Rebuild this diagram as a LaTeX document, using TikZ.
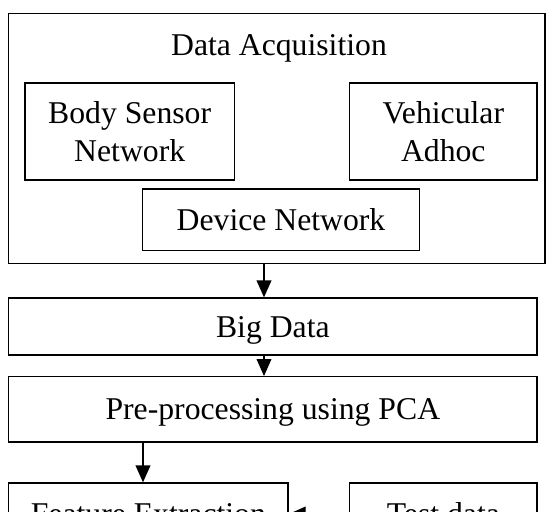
\documentclass[tikz,border=0pt]{standalone}
\usepackage{fontspec}
\setmainfont{Liberation Serif}
\usetikzlibrary{arrows.meta}

\tikzset{
  txt/.style={font=\fontsize{15.85pt}{19pt}\selectfont},
  blk/.style={txt, draw, line width=.65pt, inner sep=0pt, align=center},
  row/.style={blk, text height=10.5pt, text depth=0pt},
  flow/.style={-{Triangle[length=8.5pt,width=7.4pt]}, line width=.65pt}
}

\begin{document}
\begin{tikzpicture}[x=.5pt,y=-.5pt]
\useasboundingbox (0,0) rectangle (546,511);
\clip (0,0) rectangle (546,511);
\node [blk, minimum width=268.15pt, minimum height=125pt] (acq) at (276.85,138.3) {};
\node [txt, anchor=base] (acqtitle) at (279,55) {Data Acquisition};
\node [blk, minimum width=104.75pt, minimum height=48.5pt] (bsn) at (129.7,131.5) {Body Sensor\\Network};
\node [blk, minimum width=93.65pt, minimum height=48.5pt] (vanet) at (443.3,131.5) {Vehicular\\Adhoc};
\node [row, minimum width=138.5pt, minimum height=30.75pt] (devnet) at (281,219.7) {Device Network};
\node [row, minimum width=264.15pt, minimum height=28.5pt] (bigdata) at (272.85,326.5) {Big Data};
\node [row, minimum width=264.15pt, minimum height=32.65pt] (preproc) at (272.85,409.3) {Pre-processing using PCA};
\node [row, minimum width=139.65pt, minimum height=31pt] (feat) at (148.35,514) {Feature Extraction};
\node [row, minimum width=93.65pt, minimum height=31pt] (test) at (443.35,514) {Test data};
\coordinate (c1) at (264,0);
\coordinate (c2) at (143,0);
\draw [flow] (acq.south -| c1) -- (bigdata.north -| c1);
\draw [flow] (bigdata.south -| c1) -- (preproc.north -| c1);
\draw [flow] (preproc.south -| c2) -- (feat.north -| c2);
\draw [flow] (test.west) -- (feat.east);
\end{tikzpicture}
\end{document}
